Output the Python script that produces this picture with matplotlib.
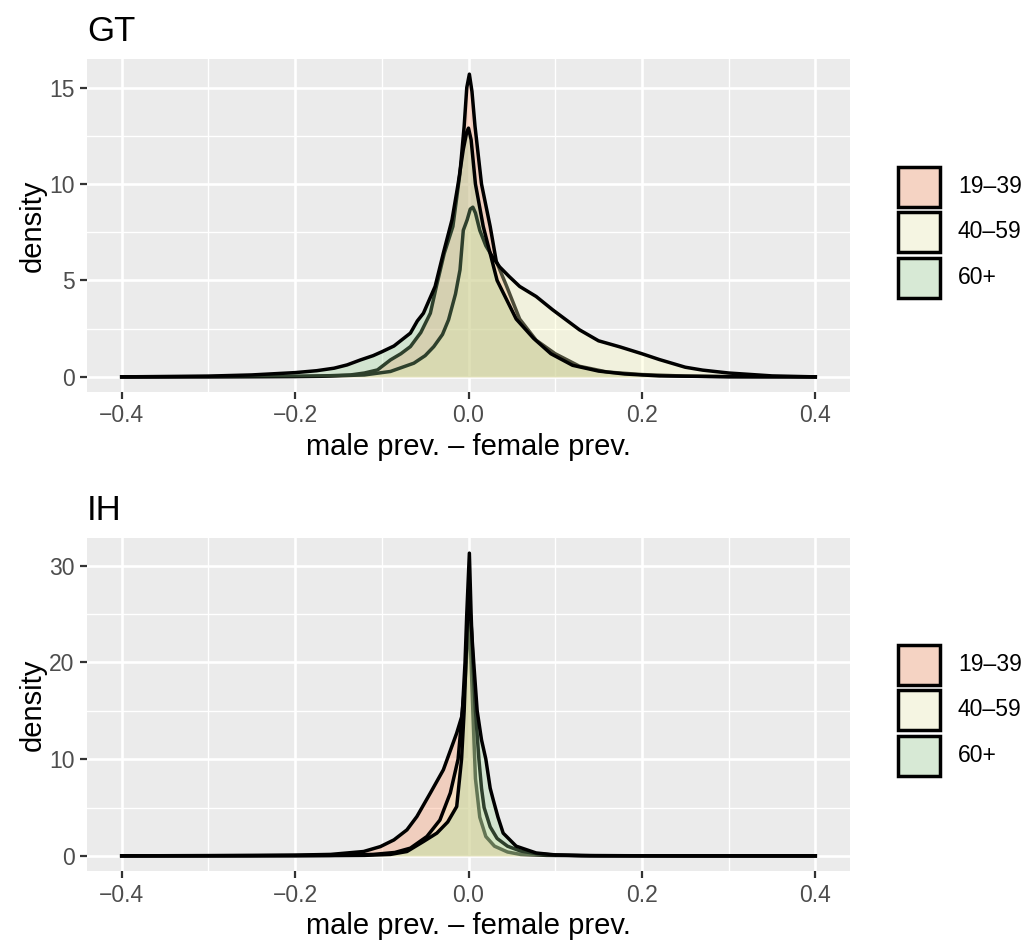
import matplotlib
matplotlib.use("Agg")
import matplotlib.pyplot as plt
from matplotlib.patches import Rectangle

# ---------------- data ----------------
groups = ["19\u201339", "40\u201359", "60+"]
fill_colors = ["#FC8D59", "#FFFFBF", "#99D594"]

# GT panel
gt_x_1939 = [-0.4, -0.3, -0.2, -0.16, -0.136, -0.12, -0.105, -0.09, -0.078, -0.067, -0.055, -0.044, -0.037,
             -0.028, -0.018, -0.01, -0.005, -0.002, 0.001, 0.004, 0.0075, 0.015, 0.025, 0.032, 0.044,
             0.059, 0.078, 0.1, 0.128, 0.16, 0.2, 0.25, 0.3, 0.4]
gt_y_1939 = [0, 0.01, 0.03, 0.06, 0.1, 0.2, 0.36, 0.88, 1.2, 1.57, 2.3, 3.3, 4.7,
             6.4, 7.8, 10.5, 13.0, 15.0, 15.7, 14.8, 13.0, 10.0, 7.8, 6.0, 4.7,
             3.0, 1.9, 1.2, 0.55, 0.25, 0.12, 0.04, 0.01, 0]

gt_x_4059 = [-0.4, -0.3, -0.2, -0.17, -0.12, -0.09, -0.063, -0.05, -0.04, -0.03, -0.023, -0.015,
             -0.0098, -0.006, -0.0015, 0.002, 0.005, 0.008, 0.013, 0.02, 0.028, 0.036, 0.047, 0.059,
             0.078, 0.097, 0.128, 0.15, 0.175, 0.2, 0.22, 0.25, 0.27, 0.3, 0.35, 0.4]
gt_y_4059 = [0, 0.005, 0.015, 0.03, 0.1, 0.28, 0.71, 1.1, 1.57, 2.2, 2.96, 4.3,
             5.55, 7.6, 8.15, 8.7, 8.8, 8.5, 7.6, 6.8, 6.2, 5.7, 5.2, 4.69,
             4.17, 3.48, 2.44, 1.87, 1.55, 1.2, 0.9, 0.5, 0.35, 0.2, 0.05, 0]

gt_x_60 = [-0.4, -0.35, -0.3, -0.25, -0.2, -0.175, -0.155, -0.14, -0.1245, -0.11, -0.1, -0.086, -0.067,
           -0.059, -0.052, -0.0385, -0.029, -0.019, -0.012, -0.006, -0.002, 0.0, 0.003, 0.008, 0.017,
           0.033, 0.055, 0.075, 0.095, 0.12, 0.15, 0.18, 0.22, 0.3, 0.4]
gt_y_60 = [0, 0.02, 0.04, 0.1, 0.22, 0.32, 0.45, 0.62, 0.88, 1.1, 1.3, 1.6, 2.27,
           2.9, 3.3, 4.69, 6.42, 8.15, 10.0, 11.8, 12.7, 12.9, 12.3, 10.0, 7.8,
           5.0, 3.0, 2.0, 1.2, 0.6, 0.3, 0.15, 0.05, 0.01, 0]

# IH panel
ih_x_1939 = [-0.4, -0.3, -0.2, -0.159, -0.121, -0.1016, -0.086, -0.071, -0.0595, -0.044, -0.029,
             -0.0136, -0.0078, -0.004, -0.001, 0.001, 0.003, 0.005, 0.008, 0.013, 0.02, 0.03, 0.045,
             0.06, 0.09, 0.15, 0.25, 0.4]
ih_y_1939 = [0, 0.03, 0.08, 0.15, 0.45, 0.96, 1.65, 2.69, 4.07, 6.5, 8.9,
             12.7, 14.4, 18.0, 22.5, 24.0, 20.0, 15.0, 8.0, 4.0, 2.0, 1.0, 0.4,
             0.15, 0.05, 0.01, 0, 0]

ih_x_4059 = [-0.4, -0.25, -0.16, -0.11, -0.085, -0.067, -0.048, -0.033, -0.021, -0.012, -0.007,
             -0.004, -0.002, 0.001, 0.003, 0.005, 0.008, 0.012, 0.015, 0.018, 0.025, 0.033, 0.045,
             0.06, 0.08, 0.1, 0.14, 0.25, 0.4]
ih_y_4059 = [0, 0.01, 0.05, 0.15, 0.35, 0.8, 2.0, 3.7, 6.5, 10.0, 15.0,
             20.0, 25.0, 31.3, 25.0, 20.0, 15.0, 10.0, 7.0, 5.0, 3.0, 1.8, 1.0,
             0.5, 0.2, 0.08, 0.02, 0, 0]

ih_x_60 = [-0.4, -0.2, -0.15, -0.12, -0.09, -0.071, -0.052, -0.0365, -0.024, -0.0136, -0.008,
           -0.005, -0.003, 0.0, 0.003, 0.006, 0.01, 0.015, 0.02, 0.025, 0.0285, 0.034, 0.04,
           0.055, 0.078, 0.1, 0.13, 0.2, 0.4]
ih_y_60 = [0, 0.01, 0.03, 0.05, 0.15, 0.45, 1.48, 2.35, 3.5, 5.1, 10.0,
           15.0, 20.0, 27.5, 24.0, 20.0, 15.0, 12.0, 10.0, 7.0, 5.8, 4.0, 2.35,
           1.0, 0.3, 0.1, 0.03, 0.01, 0]

x_ticks = [-0.4, -0.2, 0.0, 0.2, 0.4]
x_tick_labels = ["\u22120.4", "\u22120.2", "0.0", "0.2", "0.4"]
x_minor = [-0.3, -0.1, 0.1, 0.3]
gt_y_ticks = [0, 5, 10, 15]
gt_y_minor = [2.5, 7.5, 12.5]
ih_y_ticks = [0, 10, 20, 30]
ih_y_minor = [5, 15, 25]

panels = [
    dict(title="GT",
         series=[(gt_x_1939, gt_y_1939), (gt_x_4059, gt_y_4059), (gt_x_60, gt_y_60)],
         yticks=gt_y_ticks, yminor=gt_y_minor, top=59, bottom=392, legend_top=165),
    dict(title="IH",
         series=[(ih_x_1939, ih_y_1939), (ih_x_4059, ih_y_4059), (ih_x_60, ih_y_60)],
         yticks=ih_y_ticks, yminor=ih_y_minor, top=538, bottom=871, legend_top=643),
]

# ---------------- layout ----------------
W, H = 1028, 942
plt.rcParams['font.family'] = ['Liberation Sans', 'DejaVu Sans']
fig = plt.figure(figsize=(W / 100, H / 100), dpi=100)
fig.patch.set_facecolor("white")

PL, PR = 87, 850
LINE_W = 2.5
TICK_FS = 16.5
LEG_FS = 16.5
AX_FS = 21
TITLE_FS = 25


def fx(x):
    return x / W


def fy(y):
    return 1 - y / H


for p in panels:
    ax = fig.add_axes([fx(PL), fy(p["bottom"]), (PR - PL) / W, (p["bottom"] - p["top"]) / H])
    ax.set_facecolor("#EBEBEB")
    for s in ax.spines.values():
        s.set_visible(False)
    ymax = max(max(y) for _, y in p["series"])
    ax.set_xlim(-0.44, 0.44)
    ax.set_ylim(-0.05 * ymax, 1.05 * ymax)

    # grid
    for v in x_ticks:
        ax.axvline(v, color="white", lw=1.9, zorder=0)
    for v in x_minor:
        ax.axvline(v, color="white", lw=0.95, zorder=0)
    for v in p["yticks"]:
        ax.axhline(v, color="white", lw=1.9, zorder=0)
    for v in p["yminor"]:
        ax.axhline(v, color="white", lw=0.95, zorder=0)

    z = 1
    for (xs, ys), col in zip(p["series"], fill_colors):
        ax.fill_between(xs, 0, ys, color=col, alpha=0.3, lw=0, zorder=z)
        ax.plot(xs, ys, color="black", lw=LINE_W, zorder=z + 0.5, solid_joinstyle="round")
        z += 1

    ax.set_xticks(x_ticks)
    ax.set_xticklabels(x_tick_labels)
    ax.set_yticks(p["yticks"])
    ax.tick_params(axis="both", length=5, width=1.6, color="#333333",
                   labelsize=TICK_FS, labelcolor="#4D4D4D", pad=4)

    ax.set_xlabel("male prev. \u2013 female prev.", fontsize=AX_FS, color="black", labelpad=4)
    ax.set_ylabel("density", fontsize=AX_FS, color="black", labelpad=1.5)
    ax.set_title(p["title"], loc="left", fontsize=TITLE_FS, color="black", pad=13)

    # legend
    KS = 45.5
    kx = 896.5
    for i, (g, col) in enumerate(zip(groups, fill_colors)):
        ky = p["legend_top"] + i * KS
        bg = Rectangle((fx(kx + 1.5), fy(ky + 41.5)), 42 / W, 40 / H, transform=fig.transFigure,
                       facecolor="#F2F2F2", edgecolor="none")
        fig.patches.append(bg)
        fr = Rectangle((fx(kx + 1.5), fy(ky + 41.5)), 42 / W, 40 / H,
                       transform=fig.transFigure, facecolor=col, alpha=0.3, edgecolor="none")
        fig.patches.append(fr)
        ed = Rectangle((fx(kx + 1.5), fy(ky + 41.5)), 42 / W, 40 / H,
                       transform=fig.transFigure, facecolor="none", edgecolor="black", lw=LINE_W)
        fig.patches.append(ed)
        fig.text(fx(958), fy(ky + 21.5), g, fontsize=LEG_FS, color="black",
                 ha="left", va="center")

fig.savefig("out.png", dpi=100)
